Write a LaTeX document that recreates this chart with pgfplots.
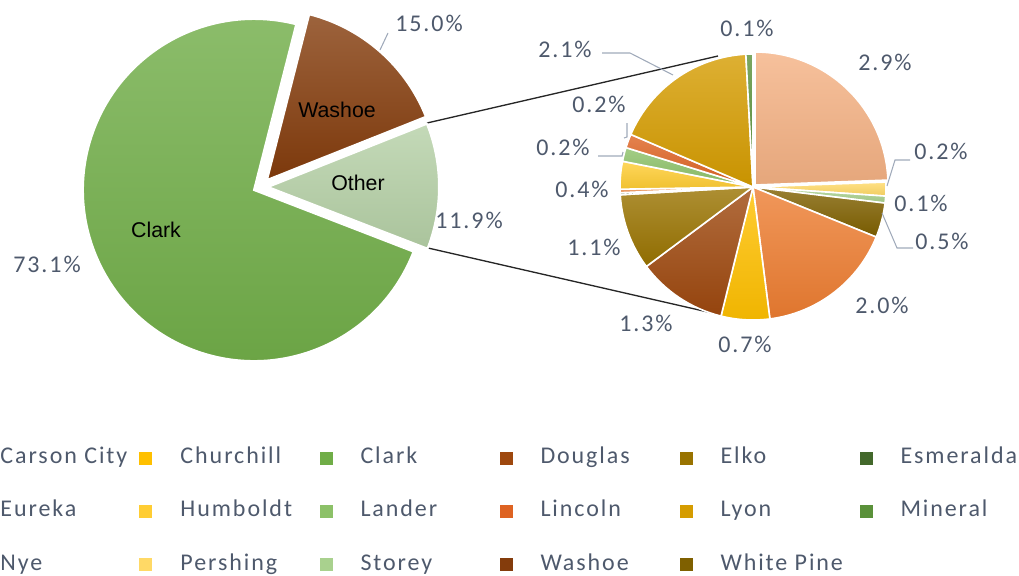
\documentclass[border=0pt]{standalone}
\usepackage{pgfplots}
\pgfplotsset{compat=1.18}
\usepackage{pgfplotstable}
\usepackage{fontspec}
\newfontfamily\labf{Carlito}[LetterSpace=8]
\newfontfamily\arf{Liberation Sans}
\newcommand\labfont{\labf\fontsize{18pt}{21pt}\selectfont}
\newcommand\arfont{\arf\fontsize{16pt}{19pt}\selectfont}

\definecolor{labcol}{RGB}{78,89,108}
\definecolor{leadcol}{RGB}{160,170,186}
\definecolor{cCarson}{HTML}{ED7D31}
\definecolor{cChurchill}{HTML}{FFC000}
\definecolor{cClark}{HTML}{70AD47}
\definecolor{cDouglas}{HTML}{9E480E}
\definecolor{cElko}{HTML}{997300}
\definecolor{cEsmeralda}{HTML}{43682B}
\definecolor{cEureka}{HTML}{F1975A}
\definecolor{cHumboldt}{HTML}{FFCD33}
\definecolor{cLander}{HTML}{8CC168}
\definecolor{cLincoln}{HTML}{DE6322}
\definecolor{cLyon}{HTML}{D59C00}
\definecolor{cMineral}{HTML}{5A913A}
\definecolor{cNye}{HTML}{F4B183}
\definecolor{cPershing}{HTML}{FFD966}
\definecolor{cStorey}{HTML}{A9D18E}
\definecolor{cWashoe}{HTML}{843C0C}
\definecolor{cWhitePine}{HTML}{7F6000}
\definecolor{cOther}{HTML}{B5D0A6}

% main pie (clockwise from 75.7 deg); cx cy = slice centre in pixels
\pgfplotstableread{
col value cx cy
cWashoe 15.0 267 180
cOther 11.9 268 187
cClark 73.1 254 190
}\maindata

% secondary pie: breakdown of "Other", clockwise from the top
\pgfplotstableread{
col value cx cy
cNye 2.9 755 185
cPershing 0.2 753 187
cStorey 0.1 753 187
cWhitePine 0.5 753 187
cCarson 2.0 753 187
cChurchill 0.7 753 187
cDouglas 1.3 753 187
cElko 1.1 753 187
cEsmeralda 0.03 753 187
cEureka 0.05 753 187
cHumboldt 0.4 753 187
cLander 0.2 753 187
cLincoln 0.2 753 187
cLyon 2.1 753 187
cMineral 0.1 753 187
}\secdata

\makeatletter
\newcommand\piecmds{}
\newcommand\addpie[4]{%
  \pgfplotstablegetrowsof{#1}\pgfmathtruncatemacro\pie@n{\pgfplotsretval-1}%
  \gdef\pie@tot{0}%
  \foreach \i in {0,...,\pie@n}{%
    \pgfplotstablegetelem{\i}{value}\of{#1}%
    \pgfmathsetmacro\pie@t{\pie@tot+\pgfplotsretval}\xdef\pie@tot{\pie@t}}%
  \xdef\pie@acc{#2}%
  \foreach \i in {0,...,\pie@n}{%
    \pgfplotstablegetelem{\i}{value}\of{#1}\let\pie@v\pgfplotsretval
    \pgfplotstablegetelem{\i}{col}\of{#1}\let\pie@c\pgfplotsretval
    \pgfplotstablegetelem{\i}{cx}\of{#1}\let\pie@x\pgfplotsretval
    \pgfplotstablegetelem{\i}{cy}\of{#1}\let\pie@y\pgfplotsretval
    \pgfmathsetmacro\pie@e{\pie@acc-\pie@v/\pie@tot*360}%
    \xdef\piecmds{\unexpanded\expandafter{\piecmds}\noexpand\path[top color=\pie@c!80!white,bottom color=\pie@c!94!black,draw=white,line width=#4] (axis cs:\pie@x,\pie@y) -- ++(\pie@acc:#3) arc[start angle=\pie@acc,end angle=\pie@e,radius=#3] -- cycle;}%
    \xdef\pie@acc{\pie@e}%
  }%
}
\makeatother
\addpie{\maindata}{75.7}{128.25pt}{1.5pt}
\addpie{\secdata}{90}{99.75pt}{1.2pt}

\begin{document}
\begin{tikzpicture}
\begin{axis}[
  hide axis, scale only axis, width=764.25pt, height=431.25pt,
  xmin=0, xmax=1019, ymin=0, ymax=575, y dir=reverse, clip=false,
  legend columns=6, legend cell align=left,
  legend style={at={(axis cs:-40.5,447.5)}, anchor=north west, draw=none, fill=none,
    inner sep=0pt, outer sep=0pt, column sep=0pt, row sep=24pt,
    nodes={inner sep=0pt, text height=12pt, text depth=4pt, font=\labfont, text=labcol}},
  legend image code/.code={\fill[#1, draw=none] (0pt,-4.875pt) rectangle (9.75pt,4.875pt); \path[draw=none, fill=none] (0pt,0pt) -- (30.75pt,0pt);},
]
\coordinate (SW) at (axis cs:0,575);
\coordinate (NE) at (axis cs:1019,0);
% connector lines
\draw[black!85, line width=1pt] (axis cs:427,123) -- (axis cs:718,56);
\draw[black!85, line width=1pt] (axis cs:428,248) -- (axis cs:721,315);
% pies
\piecmds
% labels inside main pie
\node[font=\arfont, text=black] at (axis cs:337,110) {Washoe};
\node[font=\arfont, text=black] at (axis cs:358,183) {Other};
\node[font=\arfont, text=black] at (axis cs:156,230) {Clark};
% leader lines
\draw[leadcol, line width=0.8pt] (axis cs:380,50) -- (axis cs:388,33);
\draw[leadcol, line width=0.8pt] (axis cs:602,53) -- (axis cs:630,53) -- (axis cs:673,75);
\draw[leadcol, line width=0.8pt] (axis cs:627,123) -- (axis cs:627,137) -- (axis cs:624,138);
\draw[leadcol, line width=0.8pt] (axis cs:598,156) -- (axis cs:622,156) -- (axis cs:623,152);
\draw[leadcol, line width=0.8pt] (axis cs:910,160) -- (axis cs:895,160) -- (axis cs:887,186);
\draw[leadcol, line width=0.8pt] (axis cs:882,213) -- (axis cs:897,248) -- (axis cs:913,248);
% percentage labels
\begin{scope}[every node/.style={font=\labfont, text=labcol, inner sep=0pt}]
\node at (axis cs:429,23) {15.0\%};
\node at (axis cs:469,220) {11.9\%};
\node at (axis cs:47,264) {73.1\%};
\node at (axis cs:747,28) {0.1\%};
\node at (axis cs:885,62) {2.9\%};
\node at (axis cs:941,151) {0.2\%};
\node at (axis cs:921,203) {0.1\%};
\node at (axis cs:942,241) {0.5\%};
\node at (axis cs:882,305) {2.0\%};
\node at (axis cs:745,344) {0.7\%};
\node at (axis cs:646,323) {1.3\%};
\node at (axis cs:594,247) {1.1\%};
\node at (axis cs:582,189) {0.4\%};
\node at (axis cs:563,147) {0.2\%};
\node at (axis cs:599,104) {0.2\%};
\node at (axis cs:565,49) {2.1\%};
\end{scope}
% legend
\addlegendimage{fill=cCarson}\addlegendentry{\makebox[104.25pt][l]{Carson City}}
\addlegendimage{fill=cChurchill}\addlegendentry{\makebox[104.25pt][l]{Churchill}}
\addlegendimage{fill=cClark}\addlegendentry{\makebox[104.25pt][l]{Clark}}
\addlegendimage{fill=cDouglas}\addlegendentry{\makebox[104.25pt][l]{Douglas}}
\addlegendimage{fill=cElko}\addlegendentry{\makebox[104.25pt][l]{Elko}}
\addlegendimage{fill=cEsmeralda}\addlegendentry{\makebox[104.25pt][l]{Esmeralda}}
\addlegendimage{fill=cEureka}\addlegendentry{\makebox[104.25pt][l]{Eureka}}
\addlegendimage{fill=cHumboldt}\addlegendentry{\makebox[104.25pt][l]{Humboldt}}
\addlegendimage{fill=cLander}\addlegendentry{\makebox[104.25pt][l]{Lander}}
\addlegendimage{fill=cLincoln}\addlegendentry{\makebox[104.25pt][l]{Lincoln}}
\addlegendimage{fill=cLyon}\addlegendentry{\makebox[104.25pt][l]{Lyon}}
\addlegendimage{fill=cMineral}\addlegendentry{\makebox[104.25pt][l]{Mineral}}
\addlegendimage{fill=cNye}\addlegendentry{\makebox[104.25pt][l]{Nye}}
\addlegendimage{fill=cPershing}\addlegendentry{\makebox[104.25pt][l]{Pershing}}
\addlegendimage{fill=cStorey}\addlegendentry{\makebox[104.25pt][l]{Storey}}
\addlegendimage{fill=cWashoe}\addlegendentry{\makebox[104.25pt][l]{Washoe}}
\addlegendimage{fill=cWhitePine}\addlegendentry{\makebox[104.25pt][l]{White Pine}}
\end{axis}
\pgfresetboundingbox
\useasboundingbox (SW) rectangle (NE);
\end{tikzpicture}
\end{document}
